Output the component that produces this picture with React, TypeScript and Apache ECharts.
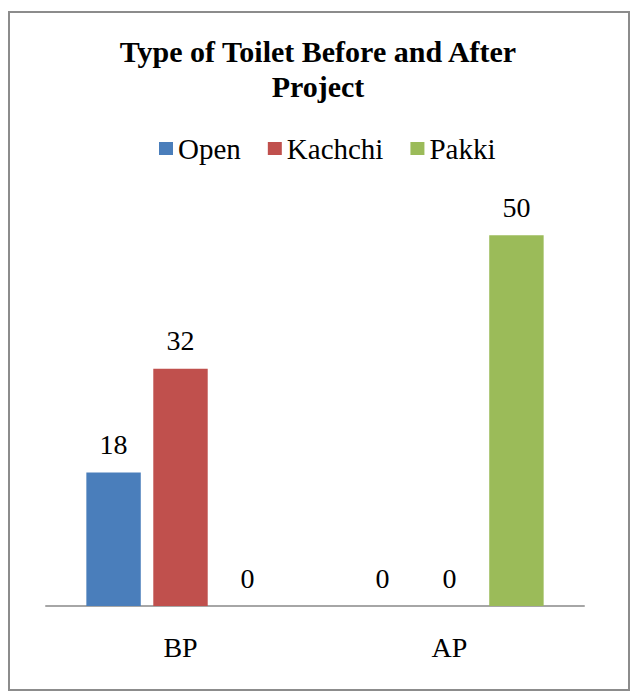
import React, { useEffect, useRef } from "react";
import * as echarts from "echarts";

const categories = ["BP", "AP"];
const seriesNames = ["Open", "Kachchi", "Pakki"];
const openValues = [18, 0];
const kachchiValues = [32, 0];
const pakkiValues = [0, 50];
const colors = ["#4A7EBB", "#C0504D", "#9BBB59"];
const titleText = "Type of Toilet Before and After\nProject";

export default function App() {
  const ref = useRef<HTMLDivElement>(null);
  useEffect(() => {
    if (!ref.current) return;
    const chart = echarts.init(ref.current, null, { renderer: "svg" });
    const font = "'Liberation Serif', 'Times New Roman', serif";
    const values = [openValues, kachchiValues, pakkiValues];
    chart.setOption({
      animation: false,
      backgroundColor: "#ffffff",
      color: colors,
      title: {
        text: titleText,
        left: "center",
        top: 29,
        textStyle: {
          fontFamily: font,
          fontWeight: "bold",
          fontSize: 30,
          lineHeight: 35,
          color: "#000",
        },
      },
      legend: {
        data: seriesNames,
        top: 129,
        left: 154,
        icon: "rect",
        itemWidth: 14,
        itemHeight: 13,
        itemGap: 27,
        textStyle: { fontFamily: font, fontSize: 29, color: "#000" },
      },
      grid: { left: 46, right: 52, top: 161, bottom: 91 },
      xAxis: {
        type: "category",
        data: categories,
        axisLine: { lineStyle: { color: "#A6A6A6", width: 2 } },
        axisTick: { show: false },
        axisLabel: { fontFamily: font, fontSize: 28, color: "#000", margin: 27 },
      },
      yAxis: {
        type: "value",
        min: 0,
        max: 60,
        interval: 10,
        show: false,
        splitLine: { show: false },
      },
      series: seriesNames.map((name, i) => ({
        name,
        type: "bar",
        data: values[i],
        barGap: "23%",
        barCategoryGap: "30%",
        label: {
          show: true,
          position: "top",
          distance: 14,
          fontFamily: font,
          fontSize: 28,
          color: "#000",
        },
      })),
      graphic: [
        {
          type: "rect",
          shape: { x: 9, y: 12, width: 620, height: 678 },
          style: { fill: "none", stroke: "#8C8C8C", lineWidth: 2 },
          silent: true,
        },
      ],
    });
    return () => chart.dispose();
  }, []);
  return (
    <div
      ref={ref}
      style={{ position: "fixed", left: 0, top: 0, width: 636, height: 697 }}
    />
  );
}
